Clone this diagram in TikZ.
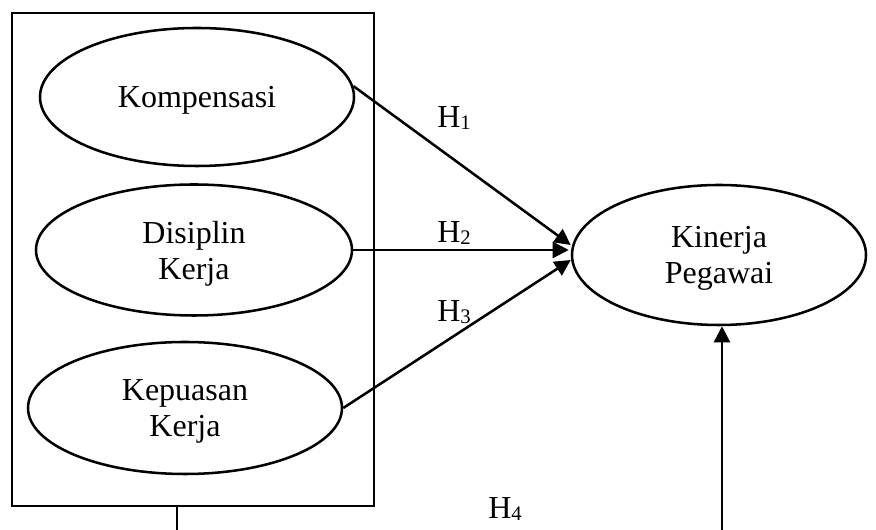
\documentclass[tikz,border=0pt]{standalone}
\usepackage{fontspec}
\setmainfont{Liberation Serif}
\usetikzlibrary{shapes.geometric,arrows.meta,calc}
\newcommand\hsub[1]{\raisebox{-1pt}{\fontsize{15.5pt}{16pt}\selectfont #1}}
\begin{document}
\begin{tikzpicture}[x=0.75pt,y=-0.75pt,
  every node/.style={font=\fontsize{24pt}{27pt}\selectfont},
  var/.style={draw,ellipse,line width=1.9pt,inner sep=0pt,align=center,text depth=0pt},
  frame/.style={draw,rectangle,line width=1.9pt,inner sep=0pt},
  conn/.style={line width=1.9pt},
  arr/.style={conn,-{Triangle[length=12pt,width=12pt]}},
  hyp/.style={anchor=base west,inner sep=0pt}]
\useasboundingbox (0,0) rectangle (876,530);

\node[frame,minimum width=271.5pt,minimum height=369.75pt] (box) at (193,259.5) {};

\node[var,minimum width=235.5pt,minimum height=103.5pt] (komp) at (197,97) {Kompensasi};
\node[var,minimum width=237pt,minimum height=98.25pt] (dis) at (194,250) {Disiplin\\Kerja};
\node[var,minimum width=235.5pt,minimum height=99pt] (kep) at (185,408) {Kepuasan\\Kerja};
\node[var,minimum width=220.5pt,minimum height=105pt] (kin) at (719,255) {Kinerja\\Pegawai};

\coordinate (t1) at ($(kin.west)+(0,-10)$);
\coordinate (t2) at ($(kin.west)+(-2,-2)$);
\coordinate (t3) at ($(kin.west)+(0,5)$);

\draw[arr] (komp.4) -- (t1);
\draw[arr] (dis.east) -- (dis.east -| t2);
\draw[arr] (kep.east) -- (t3);

\node[hyp] (h1) at (437,128) {H\hsub{1}};
\node[hyp] (h2) at (437,243) {H\hsub{2}};
\node[hyp] (h3) at (437,322) {H\hsub{3}};
\node[hyp] (h4) at (488,519) {H\hsub{4}};

\coordinate (b1) at (177,534);
\coordinate (b2) at (722,534);
\draw[conn] (box.south -| b1) -- (b1);
\draw[arr] (b2) -- (b2 |- kin.south);
\end{tikzpicture}
\end{document}
